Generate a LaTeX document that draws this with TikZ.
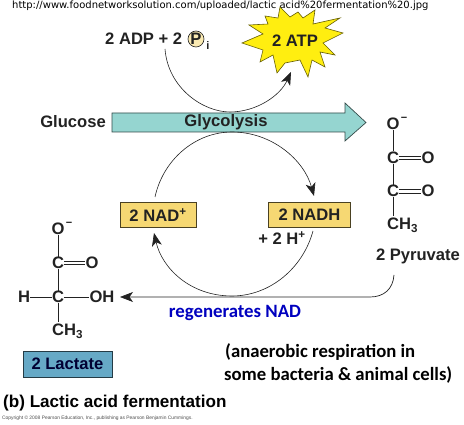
\documentclass[tikz,border=0pt]{standalone}
\usepackage{fontspec}
\setmainfont{Liberation Sans}
\newfontfamily\urlfont{DejaVu Sans}
\newfontfamily\notefont{Carlito}
\usetikzlibrary{arrows.meta,positioning,shapes.geometric}
\definecolor{nadfill}{HTML}{F6D873}
\definecolor{lacfill}{HTML}{66A9C6}
\definecolor{glyfill}{HTML}{95D5D0}
\definecolor{burstfill}{HTML}{FFEE10}
\definecolor{textdark}{HTML}{222222}
\begin{document}
\begin{tikzpicture}[
    x=1pt, y=-1pt,
    font=\fontsize{16.6}{18}\selectfont\bfseries,
    text=textdark,
    lbl/.style={inner sep=0pt},
    atom/.style={inner sep=0pt, font=\fontsize{16.6}{18}\selectfont\bfseries},
    bond/.style={draw=textdark, line width=.6pt},
    carrier/.style={draw=black!70!nadfill, fill=nadfill, line width=.7pt, minimum width=76pt, minimum height=25pt, inner sep=0pt},
    note/.style={inner sep=0pt, anchor=west, font=\notefont\fontsize{18.7}{20}\selectfont\bfseries, text=black},
    arrow/.style={-{Stealth[length=13pt,width=10pt,inset=3.5pt]}, draw=textdark, line width=.6pt}
  ]
    \useasboundingbox (0,0) rectangle (464,425);
    \node[lbl, anchor=west, font=\urlfont\fontsize{10}{11}\selectfont, text=black] (url) at (12,6) {http://www.foodnetworksolution.com/uploaded/lactic acid\%20fermentation\%20.jpg};

    % top of the picture
    \node[lbl, anchor=west] (adp) at (105,39) {2 ADP + 2};
    \node[circle, draw=textdark, fill=nadfill!55, line width=.6pt, minimum size=16pt, inner sep=0pt] (pi) at (196,39) {P};
    \node[lbl, font=\fontsize{11}{12}\selectfont\bfseries] (isub) at (208,46) {i};
    \draw[draw=black!60!burstfill, fill=burstfill, line width=.6pt]
      (242,43) -- (263,34) -- (249,25) -- (268,24) -- (265,16) -- (278,18) -- (280,7) -- (290,17)
      -- (298,12) -- (303,18) -- (315,10) -- (313,24) -- (340,18) -- (325,28) -- (343,33) -- (323,43)
      -- (335,55) -- (320,52) -- (325,67) -- (312,60) -- (308,77) -- (300,60) -- (285,63) -- (277,73)
      -- (273,55) -- (260,62) -- (263,50) -- cycle;
    \node[lbl] (atp) at (295,41) {2 ATP};
    \coordinate (adpout) at (165,49);
    \coordinate (atpin) at (291,72);
    \draw[arrow] (adpout) .. controls (168,88) and (203,112) .. (230,112) .. controls (256,112) and (280,96) .. (atpin);

    % big arrow
    \draw[draw=black!65!glyfill, fill=glyfill, line width=.7pt]
      (112,113) -- (345,113) -- (345,103) -- (366,122.5) -- (345,141) -- (345,132) -- (112,132) -- cycle;
    \node[lbl] (glycotext) at (226,122) {Glycolysis};
    \node[lbl, anchor=east] (glucose) at (106,122) {Glucose};

    % the cycle
    \node[carrier] (nad) at (158,215) {2 NAD\textsuperscript{+}};
    \node[carrier, minimum width=82pt] (nadh) at (309.5,215) {2 NADH};
    \node[lbl] (hplus) at (282,238) {+ 2 H\textsuperscript{+}};
    \coordinate (nadout) at (155,197);
    \coordinate (nadhin) at (314,196);
    \coordinate (nadhout) at (313,231);
    \coordinate (nadin) at (154,233);
    \draw[arrow] (nadout) .. controls (163,160) and (195,132) .. (232,132) .. controls (272,132) and (304,160) .. (nadhin);
    \draw[arrow] (nadhout) .. controls (303,268) and (270,296) .. (232,296) .. controls (190,296) and (162,268) .. (nadin);

    % pyruvate
    \node[atom] (po) at (393,124) {O};
    \node[lbl, font=\fontsize{11}{12}\selectfont\bfseries] (pminus) at (404,119) {−};
    \node[atom] (pc) at (393,157.5) {C};
    \node[atom] (poa) at (428,158) {O};
    \node[atom] (pd) at (393,191) {C};
    \node[atom] (pob) at (428,191) {O};
    \node[atom, anchor=west] (pch) at (387,225) {CH\textsubscript{3}};
    \node[lbl] (pyr) at (418,256) {2 Pyruvate};
    \draw[bond] (po) -- (pc);
    \draw[bond] (pc) -- (pd);
    \draw[bond] (pd) -- (393,216);
    \draw[bond] (pc.east |- 0,156) -- (poa.west |- 0,156);
    \draw[bond] (pc.east |- 0,159.5) -- (poa.west |- 0,159.5);
    \draw[bond] (pd.east |- 0,189.5) -- (pob.west |- 0,189.5);
    \draw[bond] (pd.east |- 0,193) -- (pob.west |- 0,193);

    % to lactate
    \coordinate (pyrout) at (394,275);
    \coordinate (oh) at (120,297);
    \draw[arrow, line width=.7pt] (pyrout) .. controls (393,289) and (384,297) .. (370,297) -- (oh);
    \node[lbl, font=\notefont\fontsize{18.8}{20}\selectfont\bfseries, text=blue!75!black] (regen) at (235,313) {regenerates NAD};

    % lactate
    \node[atom] (lo) at (58,229) {O};
    \node[lbl, font=\fontsize{11}{12}\selectfont\bfseries] (lminus) at (69,224) {−};
    \node[atom] (lc) at (58,263) {C};
    \node[atom] (loa) at (92,263) {O};
    \node[atom] (lh) at (24,297) {H};
    \node[atom] (ld) at (58,297) {C};
    \node[atom] (loh) at (102,297) {OH};
    \node[atom, anchor=west] (lch) at (52,331) {CH\textsubscript{3}};
    \draw[bond] (lo) -- (lc);
    \draw[bond] (lc) -- (ld);
    \draw[bond] (ld) -- (58,322);
    \draw[bond] (lh) -- (ld);
    \draw[bond] (ld) -- (loh);
    \draw[bond] (lc.east |- 0,261) -- (loa.west |- 0,261);
    \draw[bond] (lc.east |- 0,264.5) -- (loa.west |- 0,264.5);
    \node[carrier, draw=black!65!lacfill, fill=lacfill, minimum width=89pt, minimum height=26pt, text=black!80!blue] (lactate) at (67.5,364) {2 Lactate};

    % notes at the bottom
    \node[note] (notea) at (225,352) {(anaerobic respiration in};
    \node[note] (noteb) at (224,375) {some bacteria \& animal cells)};
    \node[lbl, anchor=west, font=\fontsize{17.1}{20}\selectfont\bfseries, text=black] (caption) at (3,403) {(b) Lactic acid fermentation};
    \node[lbl, anchor=west, font=\fontsize{4.9}{6}\selectfont\mdseries, text=black!70] (copyr) at (2,418) {Copyright © 2008 Pearson Education, Inc., publishing as Pearson Benjamin Cummings.};
  \end{tikzpicture}
\end{document}
